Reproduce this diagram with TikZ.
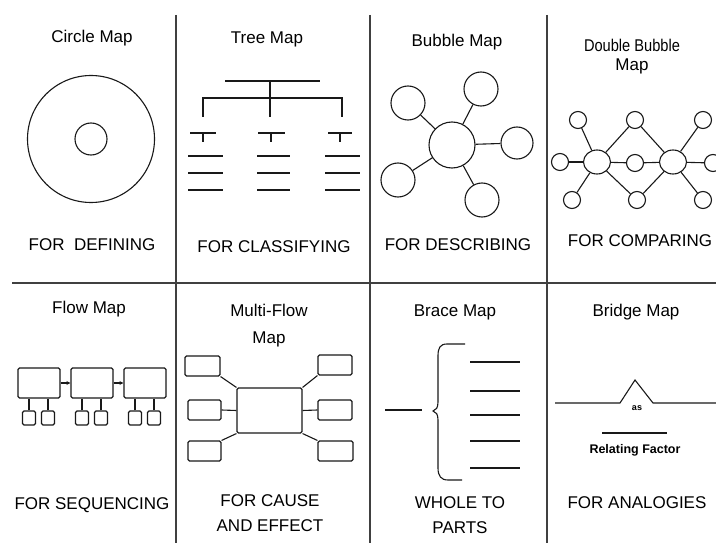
\documentclass[tikz,border=0pt]{standalone}
\usepackage{fontspec}
\setmainfont{Liberation Sans}
\usetikzlibrary{arrows.meta,shapes.geometric}
\begin{document}
\begin{tikzpicture}[x=1pt,y=-1pt,
  title/.style={font=\fontsize{17}{19}\selectfont, align=center, inner sep=0},
  lbl/.style={font=\fontsize{17}{25}\selectfont, align=center, inner sep=0},
  divider/.style={line width=2.2pt, draw=black!75},
  ln/.style={line width=1.1pt, draw=black!90},
  bub/.style={ln, circle, inner sep=0},
  ell/.style={ln, ellipse, inner sep=0},
  box/.style={ln, rectangle, rounded corners=1.5pt, inner sep=0},
]
\useasboundingbox (0,0) rectangle (716,543);
\fill[white] (0,0) rectangle (716,543);

% dividers
\coordinate (v1t) at (176,15); \coordinate (v1b) at (176,543);
\coordinate (v2t) at (370,15); \coordinate (v2b) at (370,543);
\coordinate (v3t) at (547,15); \coordinate (v3b) at (547,543);
\coordinate (hl) at (12,283);  \coordinate (hr) at (716,283);
\draw[divider] (v1t) -- (v1b);
\draw[divider] (v2t) -- (v2b);
\draw[divider] (v3t) -- (v3b);
\draw[divider] (hl) -- (hr);

% ---------- Circle Map
\node[title] (t1) at (92,38) {Circle Map};
\node[bub, minimum size=127pt] (outer) at (91,139) {};
\node[bub, minimum size=32pt] (inner) at (91,139) {};
\node[lbl] (l1) at (92,245) {FOR\ \ DEFINING};

% ---------- Tree Map
\node[title] (t2) at (267,39) {Tree Map};
\draw[ln] (225,81) -- (320,81);
\draw[ln] (270,81) -- (270,117);
\draw[ln] (203,117) -- (203,98) -- (342,98) -- (342,117);
\foreach \cx/\a/\b in {203/190/216, 271/258/285, 340/328/352}{
  \draw[ln] (\a,133) -- (\b,133);
  \draw[ln] (\cx,133) -- (\cx,142);
}
\foreach \a/\b in {188/223, 257/290, 325/360}{
  \foreach \yy in {156,173,190}{
    \draw[ln] (\a,\yy) -- (\b,\yy);
  }
}
\node[lbl] (l2) at (274,247) {FOR CLASSIFYING};

% ---------- Bubble Map
\node[title] (t3) at (457,42) {Bubble Map};
\node[bub, minimum size=46pt] (bc) at (452,145) {};
\node[bub, minimum size=34pt] (b1) at (408,103) {};
\node[bub, minimum size=34pt] (b2) at (481,89) {};
\node[bub, minimum size=32pt] (b3) at (517,143) {};
\node[bub, minimum size=34pt] (b4) at (398,180) {};
\node[bub, minimum size=34pt] (b5) at (482,200) {};
\foreach \n in {b1,b2,b3,b4,b5}{ \draw[ln] (bc) -- (\n); }
\node[lbl] (l3) at (458,245) {FOR DESCRIBING};

% ---------- Double Bubble Map
\node[title] (t4) at (632,57) {\scalebox{0.86}[1]{Double Bubble}\\Map};
\node[ell, minimum width=27pt, minimum height=24pt] (dL) at (597,162) {};
\node[ell, minimum width=27pt, minimum height=24pt] (dR) at (673,162) {};
\node[bub, minimum size=17pt] (s1) at (578,120) {};
\node[bub, minimum size=17pt] (s2) at (560,162) {};
\node[bub, minimum size=17pt] (s3) at (572,200) {};
\node[bub, minimum size=17pt] (m1) at (635,120) {};
\node[bub, minimum size=17pt] (m2) at (635,163) {};
\node[bub, minimum size=17pt] (m3) at (637,200) {};
\node[bub, minimum size=17pt] (r1) at (703,120) {};
\node[bub, minimum size=17pt] (r2) at (713,163) {};
\node[bub, minimum size=17pt] (r3) at (703,200) {};
\foreach \n in {s1,s2,s3,m1,m2,m3}{ \draw[ln] (dL) -- (\n); }
\foreach \n in {r1,r2,r3,m1,m2,m3}{ \draw[ln] (dR) -- (\n); }
\node[lbl] (l4) at (640,241) {FOR COMPARING};

% ---------- Flow Map
\node[title] (t5) at (89,309) {Flow Map};
\node[box, minimum width=42pt, minimum height=30pt] (f1) at (39,383) {};
\node[box, minimum width=42pt, minimum height=30pt] (f2) at (92,383) {};
\node[box, minimum width=42pt, minimum height=30pt] (f3) at (145,383) {};
\draw[ln, -{Stealth[length=4pt,width=4pt]}] (f1) -- (f2);
\draw[ln, -{Stealth[length=4pt,width=4pt]}] (f2) -- (f3);
\foreach \p/\x in {f1/29, f1/48, f2/82, f2/101, f3/135, f3/154}{
  \node[box, minimum width=13pt, minimum height=14pt] (s\p\x) at (\x,418) {};
  \draw[ln] (s\p\x.north) -- (s\p\x.north |- \p.south);
}
\node[lbl] (l5) at (92,505) {FOR SEQUENCING};

% ---------- Multi-Flow Map
\node[title, font=\fontsize{17}{27}\selectfont] (t6) at (269,326) {Multi-Flow\\Map};
\node[box, minimum width=65pt, minimum height=45pt] (mc) at (269.5,410.5) {};
\node[box, minimum width=35pt, minimum height=20pt] (ml1) at (202.5,366) {};
\node[box, minimum width=33pt, minimum height=20pt] (ml2) at (204.5,410) {};
\node[box, minimum width=33pt, minimum height=20pt] (ml3) at (204.5,451) {};
\node[box, minimum width=34pt, minimum height=20pt] (mr1) at (335,365) {};
\node[box, minimum width=34pt, minimum height=20pt] (mr2) at (335,410) {};
\node[box, minimum width=35pt, minimum height=20pt] (mr3) at (335.5,451) {};
\draw[ln] (ml1.south east) -- (mc.north west);
\draw[ln] (ml2.east) -- (mc.west);
\draw[ln] (ml3.north east) -- (mc.south west);
\draw[ln] (mr1.south west) -- (mc.north east);
\draw[ln] (mr2.west) -- (mc.east);
\draw[ln] (mr3.north west) -- (mc.south east);
\node[lbl] (l6) at (270,513) {FOR CAUSE\\AND EFFECT};

% ---------- Brace Map
\node[title] (t7) at (455,312) {Brace Map};
\coordinate (bw1) at (385,410); \coordinate (bw2) at (422,410);
\draw[ln] (bw1) -- (bw2);
\draw[ln] (465,344) -- (447,344) .. controls (440,344) and (438,348) .. (438,356)
  -- (438,402) .. controls (438,408) and (436,410) .. (433,411)
  .. controls (436,412) and (438,414) .. (438,420)
  -- (438,468) .. controls (438,476) and (441,480) .. (448,480) -- (462,480);
\foreach \yy in {362,391,415,441,468}{ \draw[ln] (470,\yy) -- (520,\yy); }
\node[lbl] (l7) at (460,515) {WHOLE TO\\PARTS};

% ---------- Bridge Map
\node[title] (t8) at (636,312) {Bridge Map};
\coordinate (br0) at (555,403); \coordinate (br1) at (620,403);
\coordinate (br2) at (635,380); \coordinate (br3) at (653,403);
\coordinate (br4) at (716,403);
\draw[ln] (br0) -- (br1) -- (br2) -- (br3) -- (br4);
\node[inner sep=0, font=\fontsize{9}{10}\selectfont\bfseries] (as) at (637,408) {as};
\coordinate (rf0) at (602,433); \coordinate (rf1) at (667,433);
\draw[ln] (rf0) -- (rf1);
\node[inner sep=0, font=\fontsize{12.5}{14}\selectfont\bfseries] (rf) at (635,450) {Relating Factor};
\node[lbl] (l8) at (637,503) {FOR ANALOGIES};
\end{tikzpicture}
\end{document}
